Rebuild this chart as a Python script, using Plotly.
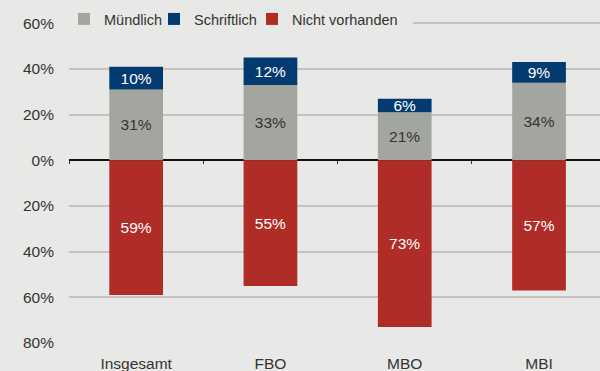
import plotly.graph_objects as go

# Kategorien und Anteile (in %)
kategorien = ["Insgesamt", "FBO", "MBO", "MBI"]
muendlich = [31, 33, 21, 34]
schriftlich = [10, 12, 6, 9]
nicht_vorhanden = [-59, -55, -73, -57]

y_ticks = [60, 40, 20, 0, -20, -40, -60, -80]
y_ticktext = ["60%", "40%", "20%", "0%", "20%", "40%", "60%", "80%"]

BG = "#e8e9e6"
GRAU = "#a3a69f"
BLAU = "#033a6f"
ROT = "#b02c26"
TEXT = "#333333"
FONT = "Liberation Sans, Arial, sans-serif"

W, H = 600, 371
M_L, M_R, M_T, M_B = 69, 0, 21, 28
PLOT_W = W - M_L - M_R
PLOT_H = H - M_T - M_B
X_RANGE = [-0.5, 3.454]


def labels(values):
    return [f"{abs(v)}%" for v in values]


def px_x(px):
    return (px - M_L) / PLOT_W


def px_y(px):
    return (H - M_B - px) / PLOT_H


def px_to_xdata(px):
    return X_RANGE[0] + px_x(px) * (X_RANGE[1] - X_RANGE[0])


fig = go.Figure()
fig.add_trace(go.Bar(
    name="Mündlich", x=kategorien, y=muendlich, marker_color=GRAU,
    text=labels(muendlich), textfont=dict(color=TEXT), legend="legend",
))
fig.add_trace(go.Bar(
    name="Schriftlich", x=kategorien, y=schriftlich, marker_color=BLAU,
    text=labels(schriftlich), textfont=dict(color="white"), legend="legend2",
))
fig.add_trace(go.Bar(
    name="Nicht vorhanden", x=kategorien, y=nicht_vorhanden, marker_color=ROT,
    text=labels(nicht_vorhanden), textfont=dict(color="white"),
    legend="legend3",
))
fig.update_traces(
    width=0.4, textposition="inside", insidetextanchor="middle",
    textangle=0, constraintext="none", marker_line_width=0,
    cliponaxis=False,
)

# unsichtbare Spur, die die Hilfsachse mit den Trennstrichen an der Nulllinie trägt
fig.add_trace(go.Scatter(x=[0], y=[0], xaxis="x2", mode="markers",
                         marker=dict(opacity=0), showlegend=False,
                         hoverinfo="skip"))

y_min, y_max = -80, 61
zero_pos = (0 - y_min) / (y_max - y_min)


def legend_box(left_px):
    return dict(
        orientation="v", x=px_x(left_px), xanchor="left",
        y=px_y(19), yanchor="middle", bgcolor="rgba(0,0,0,0)",
        font=dict(size=14.5, color=TEXT), itemwidth=30,
    )


fig.update_layout(
    width=W, height=H,
    margin=dict(l=M_L, r=M_R, t=M_T, b=M_B),
    paper_bgcolor=BG, plot_bgcolor=BG,
    barmode="relative",
    font=dict(family=FONT, size=15.5, color=TEXT),
    uniformtext=dict(minsize=15.5, mode="show"),
    showlegend=True,
    legend=legend_box(64),
    legend2=legend_box(154),
    legend3=legend_box(252),
    # Legendenbereich: oberste Gitterlinie dort ausblenden
    shapes=[dict(
        type="rect", layer="between", xref="x", yref="y",
        x0=X_RANGE[0], x1=px_to_xdata(413), y0=58.5, y1=61,
        fillcolor=BG, line=dict(width=0),
    )],
    xaxis=dict(
        range=X_RANGE, showgrid=False, showline=False, ticks="",
        zeroline=False, tickfont=dict(size=15.5, color=TEXT),
        ticklabelstandoff=9,
    ),
    xaxis2=dict(
        overlaying="x", anchor="free", position=zero_pos, side="bottom",
        range=X_RANGE, tickvals=[-0.5, 0.5, 1.5, 2.5],
        ticks="outside", ticklen=3, tickwidth=1, tickcolor="#333333",
        showticklabels=False, showgrid=False, showline=False, zeroline=False,
    ),
    yaxis=dict(
        range=[y_min, y_max], tickvals=y_ticks, ticktext=y_ticktext,
        showgrid=True, gridcolor="#c3c4c1", gridwidth=1.5,
        zeroline=True, zerolinecolor="#111111", zerolinewidth=1.5,
        ticks="", ticklabelstandoff=14, tickfont=dict(size=15.5, color=TEXT),
    ),
)

fig.write_html("out.html")
